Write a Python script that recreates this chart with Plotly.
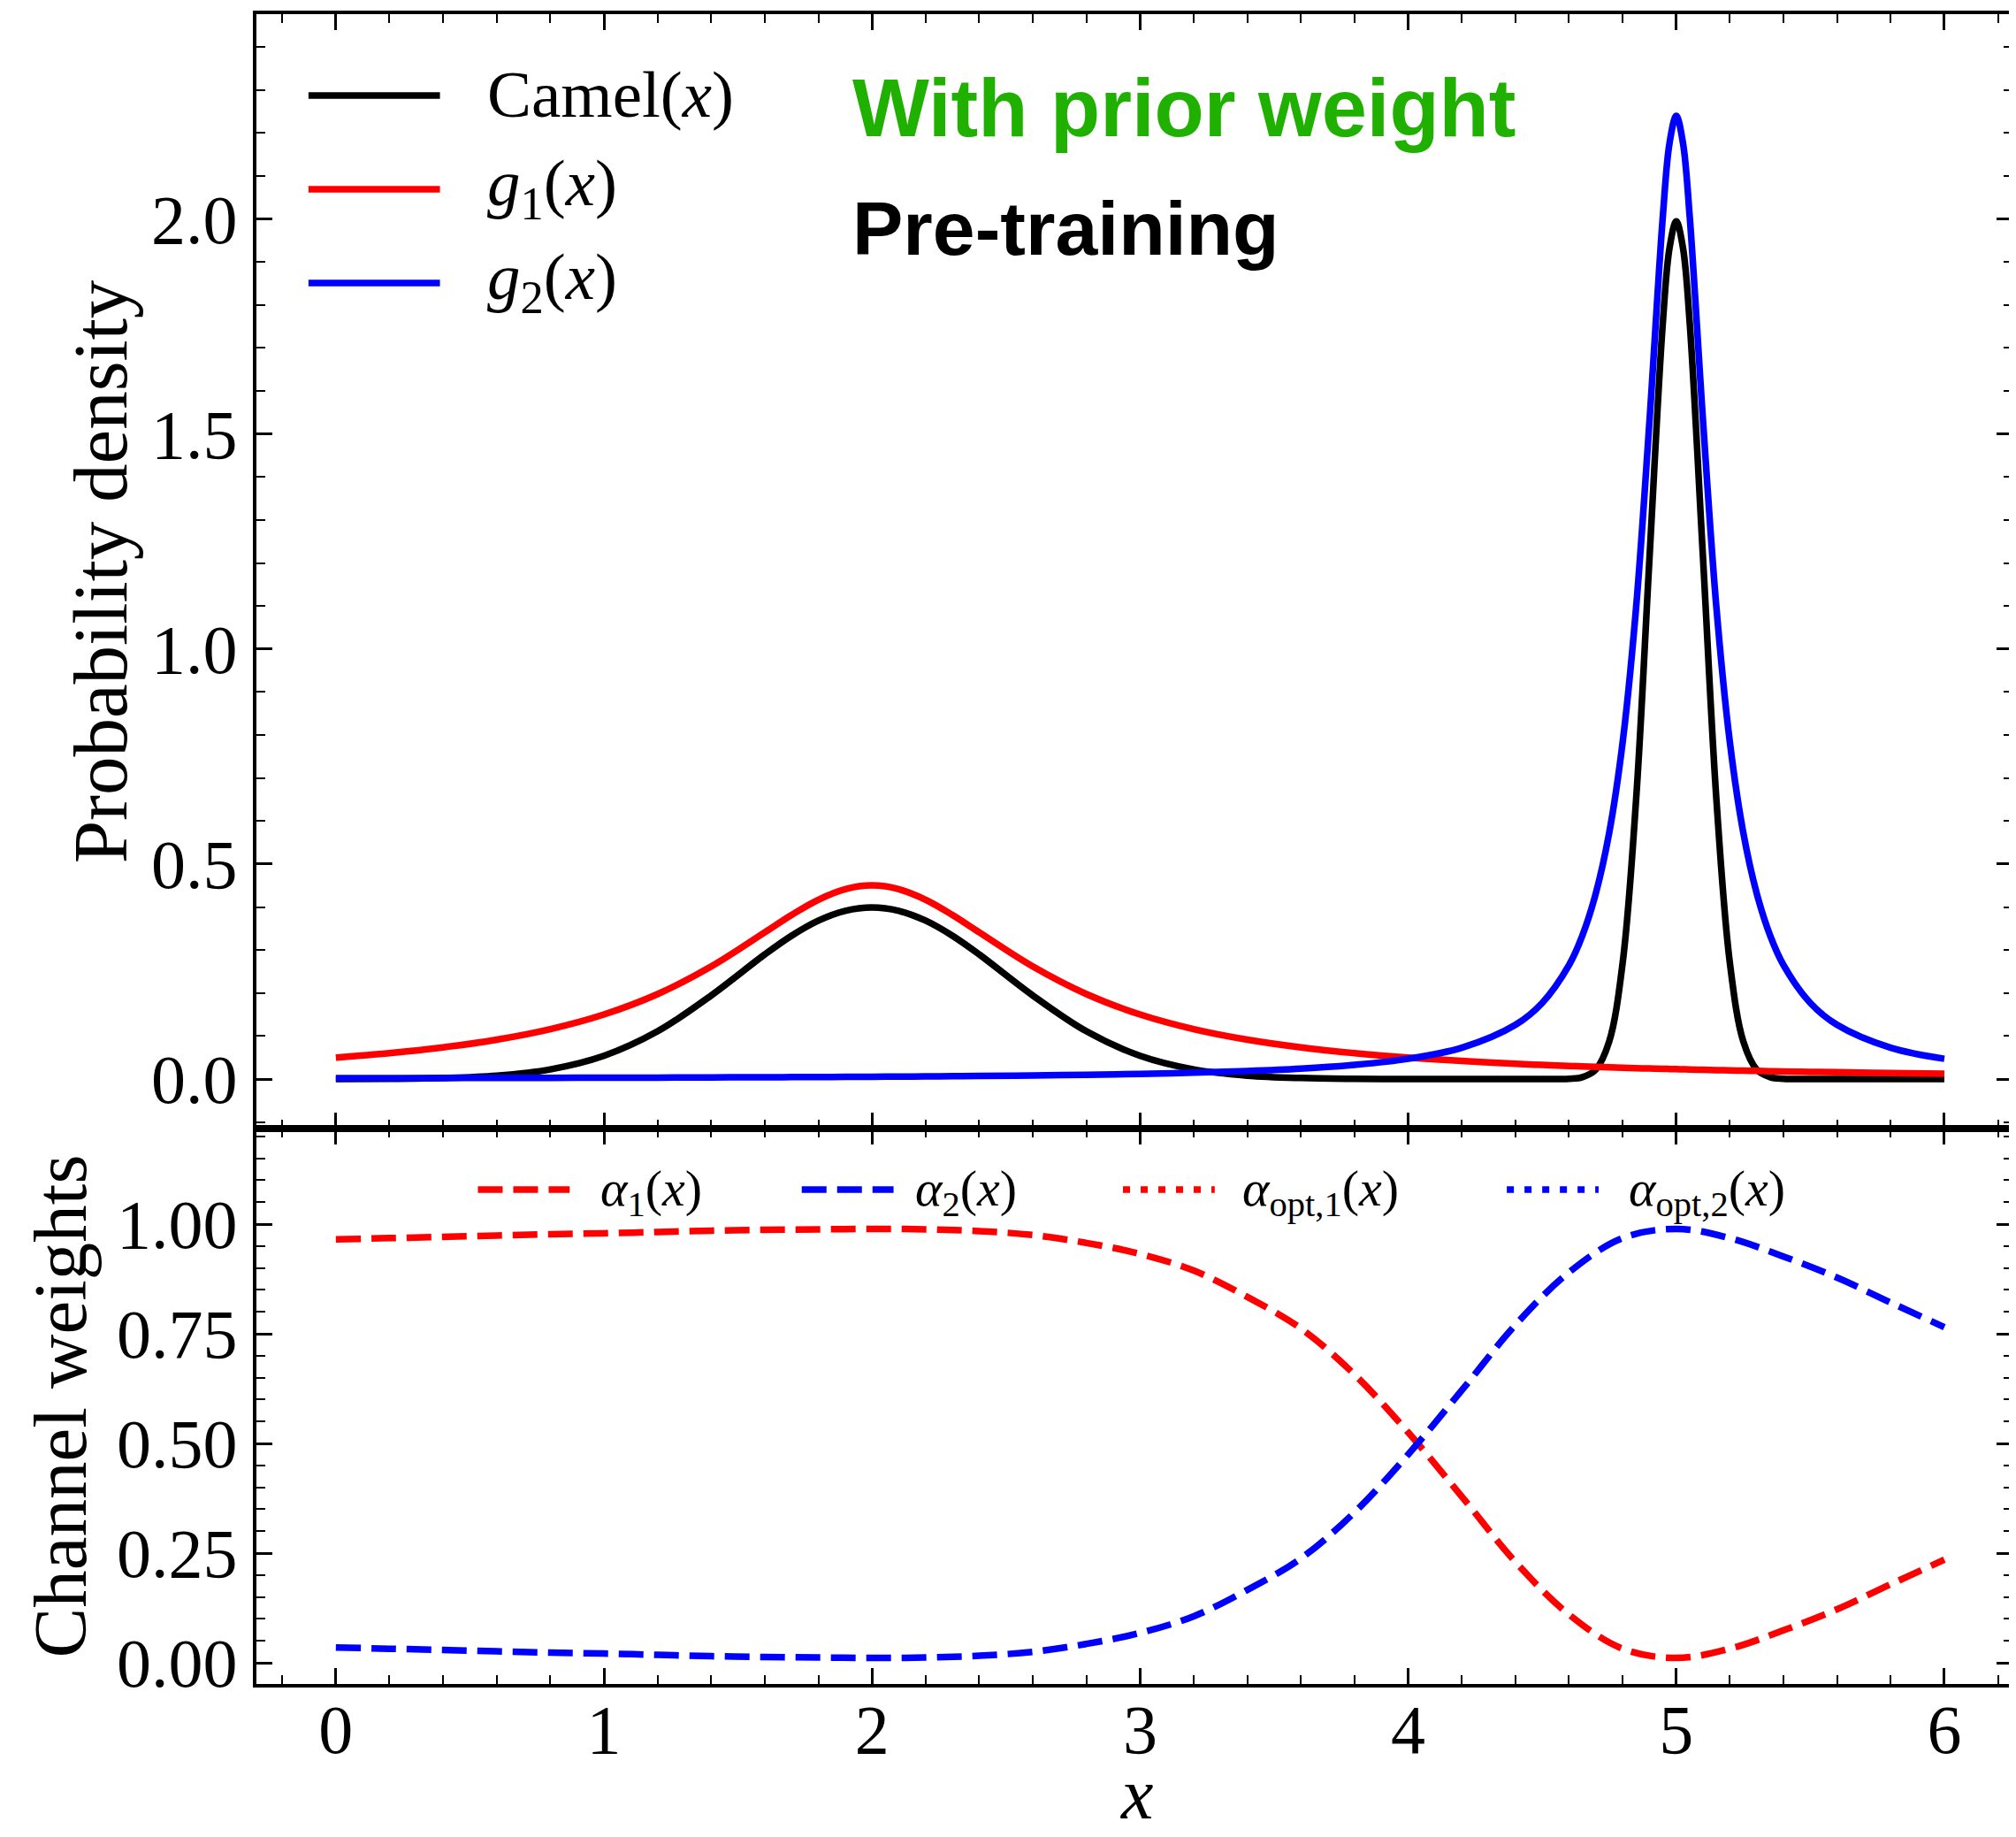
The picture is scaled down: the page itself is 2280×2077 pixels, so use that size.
import plotly.graph_objects as go

# ---------------- data ----------------
x_top = [0.0, 0.2, 0.4, 0.6, 0.8, 1.0, 1.2, 1.4, 1.6, 1.7, 1.8, 1.9, 2.0, 2.1, 2.2, 2.3,
         2.4, 2.6, 2.8, 3.0, 3.2, 3.4, 3.6, 3.8, 4.0, 4.2, 4.4, 4.5, 4.6, 4.65, 4.7,
         4.75, 4.8, 4.85, 4.9, 4.95, 4.975, 5.0, 5.025, 5.05, 5.1, 5.15, 5.2, 5.25,
         5.3, 5.35, 5.4, 5.5, 5.6, 5.8, 6.0]

camel = [0.0001, 0.0006, 0.0024, 0.0079, 0.0224, 0.0540, 0.1109, 0.1942, 0.2897, 0.3332,
         0.3683, 0.3910, 0.3989, 0.3910, 0.3683, 0.3332, 0.2897, 0.1942, 0.1109, 0.0540,
         0.0224, 0.0079, 0.0024, 0.0006, 0.0001, 0.0, 0.0, 0.0, 0.0007, 0.0044, 0.0222,
         0.0876, 0.2700, 0.6477, 1.2098, 1.7603, 1.9330, 1.9947, 1.9330, 1.7603, 1.2098,
         0.6477, 0.2700, 0.0876, 0.0222, 0.0044, 0.0007, 0.0, 0.0, 0.0, 0.0]

g1 = [0.0500, 0.0602, 0.0736, 0.0915, 0.1160, 0.1501, 0.1975, 0.2617, 0.3411, 0.3815,
      0.4169, 0.4414, 0.4502, 0.4414, 0.4169, 0.3815, 0.3411, 0.2617, 0.1975, 0.1501,
      0.1160, 0.0915, 0.0736, 0.0602, 0.0500, 0.0420, 0.0355, 0.0328, 0.0304, 0.0293,
      0.0282, 0.0272, 0.0262, 0.0253, 0.0245, 0.0237, 0.0233, 0.0229, 0.0225, 0.0221,
      0.0214, 0.0207, 0.0200, 0.0194, 0.0188, 0.0182, 0.0177, 0.0166, 0.0157, 0.0138,
      0.0122]

g2 = [0.0019, 0.0021, 0.0023, 0.0025, 0.0027, 0.0030, 0.0033, 0.0037, 0.0042, 0.0044,
      0.0047, 0.0050, 0.0053, 0.0057, 0.0061, 0.0066, 0.0071, 0.0083, 0.0099, 0.0120,
      0.0148, 0.0187, 0.0243, 0.0330, 0.0471, 0.0728, 0.126, 0.177, 0.265, 0.334,
      0.432, 0.573, 0.783, 1.095, 1.529, 2.007, 2.177, 2.240, 2.177, 2.007, 1.529,
      1.095, 0.783, 0.573, 0.432, 0.334, 0.265, 0.177, 0.126, 0.0728, 0.0471]

x_w = [0.0, 0.2, 0.4, 0.6, 0.8, 1.0, 1.2, 1.4, 1.6, 1.8, 2.0, 2.2, 2.4, 2.6, 2.8, 3.0,
       3.2, 3.4, 3.6, 3.8, 4.0, 4.2, 4.4, 4.6, 4.8, 5.0, 5.2, 5.4, 5.6, 5.8, 6.0]

alpha1 = [0.965, 0.968, 0.971, 0.974, 0.977, 0.979, 0.982, 0.985, 0.987, 0.988, 0.989,
          0.988, 0.984, 0.975, 0.957, 0.932, 0.894, 0.834, 0.762, 0.657, 0.525, 0.379,
          0.230, 0.110, 0.032, 0.011, 0.032, 0.074, 0.122, 0.179, 0.235]

alpha2 = [0.035, 0.032, 0.029, 0.026, 0.023, 0.021, 0.018, 0.015, 0.013, 0.012, 0.011,
          0.012, 0.016, 0.025, 0.043, 0.068, 0.106, 0.166, 0.238, 0.343, 0.475, 0.621,
          0.770, 0.890, 0.968, 0.989, 0.968, 0.926, 0.878, 0.821, 0.765]

top_labels = ["Camel(<i>x</i>)", "<i>g</i><sub>1</sub>(<i>x</i>)", "<i>g</i><sub>2</sub>(<i>x</i>)"]
bottom_labels = ["<i>α</i><sub>1</sub>(<i>x</i>)", "<i>α</i><sub>2</sub>(<i>x</i>)",
                 "<i>α</i><sub>opt,1</sub>(<i>x</i>)", "<i>α</i><sub>opt,2</sub>(<i>x</i>)"]

# ---------------- geometry helpers (screen pixel -> paper) ----------------
OFF = 8                      # default page body margin
W, H = 2280 - OFF, 2077 - OFF
L, R, T = 290 - OFF, 0, 16 - OFF
B = H - (1904 - OFF)
PW = W - L - R
PH = H - T - B


def px(xp):
    return (xp - OFF - L) / PW


def py(yp):
    return (H - B - (yp - OFF)) / PH


split = py(1276)

SERIF = "Liberation Serif"
SANS = "Liberation Sans"
RED = "#ff0000"
BLUE = "#0000ff"
BLACK = "#000000"
GREEN = "#1fb000"
LW = 7.5

fig = go.Figure()

fig.add_trace(go.Scatter(x=x_top, y=camel, mode="lines", name="Camel(x)",
                         line=dict(color=BLACK, width=LW, shape="spline", smoothing=1),
                         xaxis="x", yaxis="y", showlegend=False))
fig.add_trace(go.Scatter(x=x_top, y=g1, mode="lines", name="g1(x)",
                         line=dict(color=RED, width=LW, shape="spline", smoothing=1),
                         xaxis="x", yaxis="y", showlegend=False))
fig.add_trace(go.Scatter(x=x_top, y=g2, mode="lines", name="g2(x)",
                         line=dict(color=BLUE, width=LW, shape="spline", smoothing=1),
                         xaxis="x", yaxis="y", showlegend=False))

fig.add_trace(go.Scatter(x=x_w, y=alpha1, mode="lines", name="alpha1(x)",
                         line=dict(color=RED, width=LW, dash="28px,12px", shape="spline"),
                         xaxis="x2", yaxis="y2", showlegend=False))
fig.add_trace(go.Scatter(x=x_w, y=alpha2, mode="lines", name="alpha2(x)",
                         line=dict(color=BLUE, width=LW, dash="28px,12px", shape="spline"),
                         xaxis="x2", yaxis="y2", showlegend=False))

axis_common = dict(
    showline=True, linecolor=BLACK, linewidth=4, mirror="allticks",
    ticks="inside", ticklen=18, tickwidth=2.5, tickcolor=BLACK,
    showgrid=False, zeroline=False,
    tickfont=dict(family=SERIF, size=78, color=BLACK),
)

xr = [(L + OFF - 380) / 303.8, (W + OFF - R - 380) / 303.8]

fig.update_layout(
    width=W, height=H,
    margin=dict(l=L, r=R, t=T, b=B, pad=0),
    paper_bgcolor="white", plot_bgcolor="white",
    showlegend=False,
    xaxis=dict(axis_common, domain=[0, 1], anchor="y", range=xr, dtick=1, tick0=0,
               showticklabels=False, matches="x2",
               minor=dict(ticks="inside", ticklen=10, tickwidth=2, tickcolor=BLACK, dtick=0.2)),
    yaxis=dict(axis_common, domain=[split, 1], anchor="x",
               range=[(1220 - 1276) / 486.2, (1220 - 16) / 486.2],
               dtick=0.5, tick0=0, tickformat=".1f", ticklabelstandoff=2,
               minor=dict(ticks="inside", ticklen=10, tickwidth=2, tickcolor=BLACK, dtick=0.1)),
    xaxis2=dict(axis_common, domain=[0, 1], anchor="y2", range=xr, dtick=1, tick0=0,
                ticklabelstandoff=-20,
                minor=dict(ticks="inside", ticklen=10, tickwidth=2, tickcolor=BLACK, dtick=0.2)),
    yaxis2=dict(axis_common, domain=[0, split], anchor="x2",
                range=[(1880 - 1904) / 496.0, (1880 - 1276) / 496.0],
                dtick=0.25, tick0=0, tickformat=".2f", ticklabelstandoff=2,
                minor=dict(ticks="inside", ticklen=10, tickwidth=2, tickcolor=BLACK, dtick=0.05)),
)

shapes = []
annotations = []

# top legend (drawn manually to reproduce long handles)
top_colors = [BLACK, RED, BLUE]
top_rows = [108, 214, 320]
for lab, col, yy in zip(top_labels, top_colors, top_rows):
    shapes.append(dict(type="line", xref="paper", yref="paper",
                       x0=px(349), x1=px(498), y0=py(yy), y1=py(yy),
                       line=dict(color=col, width=LW)))
    annotations.append(dict(xref="paper", yref="paper", x=px(550), y=py(yy - 2),
                            xanchor="left", yanchor="middle", showarrow=False, text=lab,
                            font=dict(family=SERIF, size=75, color=BLACK)))

# bottom legend
bot_colors = [RED, BLUE, RED, BLUE]
bot_dash = ["28px,12px", "28px,12px", "8px,12px", "8px,12px"]
bot_x0 = [541, 908, 1272, 1707]
bot_x1 = [645, 1012, 1376, 1811]
bot_tx = [678, 1034, 1405, 1843]
yl = 1345
for lab, col, ds, a, b, t in zip(bottom_labels, bot_colors, bot_dash, bot_x0, bot_x1, bot_tx):
    shapes.append(dict(type="line", xref="paper", yref="paper",
                       x0=px(a), x1=px(b), y0=py(yl), y1=py(yl),
                       line=dict(color=col, width=LW, dash=ds)))
    annotations.append(dict(xref="paper", yref="paper", x=px(t), y=py(yl + 2),
                            xanchor="left", yanchor="middle", showarrow=False, text=lab,
                            font=dict(family=SERIF, size=58, color=BLACK)))

# bold annotations
annotations.append(dict(xref="paper", yref="paper", x=px(963), y=py(122),
                        xanchor="left", yanchor="middle", showarrow=False,
                        text="<b>With prior weight</b>",
                        font=dict(family=SANS, size=92, color=GREEN)))
annotations.append(dict(xref="paper", yref="paper", x=px(963), y=py(258),
                        xanchor="left", yanchor="middle", showarrow=False,
                        text="<b>Pre-training</b>",
                        font=dict(family=SANS, size=86, color=BLACK)))

# axis titles
annotations.append(dict(xref="paper", yref="paper", x=px(113), y=py(646),
                        xanchor="center", yanchor="middle", showarrow=False, textangle=-90,
                        text="Probability density",
                        font=dict(family=SERIF, size=87, color=BLACK)))
annotations.append(dict(xref="paper", yref="paper", x=px(68), y=py(1590),
                        xanchor="center", yanchor="middle", showarrow=False, textangle=-90,
                        text="Channel weights",
                        font=dict(family=SERIF, size=85, color=BLACK)))
annotations.append(dict(xref="paper", yref="paper", x=px(1288), y=py(2076),
                        xanchor="center", yanchor="bottom", showarrow=False,
                        text="<i>x</i>",
                        font=dict(family=SERIF, size=82, color=BLACK)))

fig.update_layout(shapes=shapes, annotations=annotations)

fig.write_html("out.html")
